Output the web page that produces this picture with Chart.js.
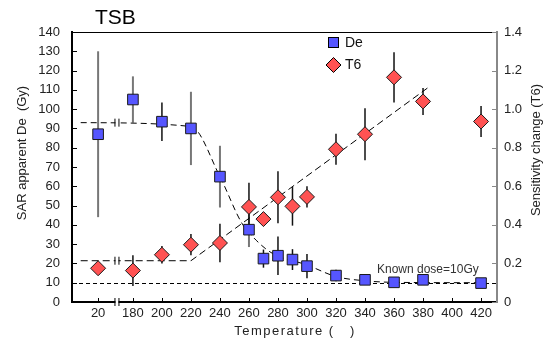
<!DOCTYPE html>
<html>
<head>
<meta charset="utf-8">
<script src="https://cdn.jsdelivr.net/npm/chart.js@4.4.1/dist/chart.umd.min.js"></script>
<style>
  body { margin: 0; background: #fff; }
  #wrap { width: 550px; height: 340px; }
</style>
</head>
<body>
<div id="wrap"><canvas id="c"></canvas></div>
<script>
// preheat temperatures of each aliquot
const temps = [20, 180, 200, 220, 240, 260, 270, 280, 290, 300, 320, 340, 360, 380, 420];
// SAR apparent De (Gy) + error
const deValues = [87, 105, 93.5, 90, 65, 37.5, 22.5, 24, 22, 18.6, 13.7, 11.5, 10.2, 11.5, 9.8];
const deErrors = [43, 12, 10, 19, 16, 9, 4.7, 10, 5.4, 6.3, 3, null, null, null, null];
// sensitivity change (T6) + error
const t6Values = [0.175, 0.163, 0.245, 0.297, 0.306, 0.493, 0.43, 0.543, 0.496, 0.545, 0.792, 0.87, 1.165, 1.04, 0.936];
const t6Errors = [null, 0.08, 0.045, 0.055, 0.1, 0.125, null, 0.135, 0.1, 0.055, 0.08, 0.135, 0.13, 0.07, 0.08];

// dashed trend lines
const deFitTemps = [8, 220, 240, 255, 265, 276, 300, 320, 340, 360, 420];
const deFitValues = [93, 91, 65, 41, 32, 25.3, 19.2, 13.2, 11, 10.2, 10];
const t6FitTemps = [8, 220, 385];
const t6FitValues = [0.214, 0.214, 1.12];
const knownDose = 10;

const xTickTemps = [20, 180, 200, 220, 240, 260, 280, 300, 320, 340, 360, 380, 400, 420];
const breakTemp = 33;

// broken axis: the 20 deg point sits just left of the break
const pos = t => (t < 100 ? t + 136 : t);
const labelFor = v => (v < 170 ? v - 136 : v);

const FONT = "'Liberation Sans', Arial, sans-serif";
const BLUE = '#5656ff';
const RED = '#ff5252';

const pts = (xs, ys) => xs.map((t, i) => ({ x: pos(t), y: ys[i] }));

const decor = {
  id: 'decor',
  beforeDatasetsDraw(chart) {
    const { ctx, chartArea: a, scales: { x, y, y1 } } = chart;
    ctx.save();
    // known dose line
    ctx.strokeStyle = '#000';
    ctx.lineWidth = 1;
    ctx.setLineDash([4, 3]);
    const yk = Math.round(y.getPixelForValue(knownDose)) + 0.5;
    ctx.beginPath(); ctx.moveTo(a.left, yk); ctx.lineTo(a.right, yk); ctx.stroke();
    ctx.setLineDash([]);

    // error bars
    temps.forEach((t, i) => {
      const px = x.getPixelForValue(pos(t));
      if (deErrors[i] != null) {
        const grey = t <= 260 && t !== 200;
        ctx.strokeStyle = grey ? '#777' : '#111';
        ctx.lineWidth = grey ? 2 : 1.5;
        ctx.beginPath();
        ctx.moveTo(px, y.getPixelForValue(deValues[i] + deErrors[i]));
        ctx.lineTo(px, y.getPixelForValue(deValues[i] - deErrors[i]));
        ctx.stroke();
      }
      if (t6Errors[i] != null) {
        ctx.strokeStyle = '#111';
        ctx.lineWidth = 1.5;
        ctx.beginPath();
        ctx.moveTo(px, y1.getPixelForValue(t6Values[i] + t6Errors[i]));
        ctx.lineTo(px, y1.getPixelForValue(t6Values[i] - t6Errors[i]));
        ctx.stroke();
      }
    });
    ctx.restore();
  },
  afterDraw(chart) {
    const { ctx, chartArea: a, scales: { x, y, y1 } } = chart;
    ctx.save();
    // top frame
    ctx.strokeStyle = '#000';
    ctx.lineWidth = 1;
    ctx.beginPath(); ctx.moveTo(a.left, a.top + 0.5); ctx.lineTo(a.right, a.top + 0.5); ctx.stroke();

    // inward tick marks
    y.ticks.forEach(tk => {
      const py = Math.round(y.getPixelForValue(tk.value)) + 0.5;
      ctx.beginPath(); ctx.moveTo(a.left, py); ctx.lineTo(a.left + 5, py); ctx.stroke();
    });
    ctx.strokeStyle = '#888';
    y1.ticks.forEach(tk => {
      const py = Math.round(y1.getPixelForValue(tk.value)) + 0.5;
      ctx.beginPath(); ctx.moveTo(a.right - 5, py); ctx.lineTo(a.right, py); ctx.stroke();
    });
    ctx.strokeStyle = '#000';
    xTickTemps.forEach(t => {
      const px = Math.round(x.getPixelForValue(pos(t))) + 0.5;
      ctx.beginPath(); ctx.moveTo(px, a.bottom); ctx.lineTo(px, a.bottom - 4); ctx.stroke();
    });

    // axis break marks
    const bx = x.getPixelForValue(pos(breakTemp));
    const brk = (cy) => {
      ctx.fillStyle = '#fff';
      ctx.fillRect(bx - 1.5, cy - 2, 3, 4);
      ctx.strokeStyle = '#000';
      ctx.lineWidth = 1;
      ctx.beginPath();
      ctx.moveTo(bx - 2, cy - 4); ctx.lineTo(bx - 2, cy + 4);
      ctx.moveTo(bx + 2, cy - 4); ctx.lineTo(bx + 2, cy + 4);
      ctx.stroke();
    };
    brk(a.bottom);
    brk(y.getPixelForValue(deFitValues[0]));
    brk(y1.getPixelForValue(t6FitValues[0]));

    // title
    ctx.fillStyle = '#000';
    ctx.font = `21px ${FONT}`;
    ctx.textBaseline = 'middle';
    ctx.textAlign = 'left';
    ctx.fillText('TSB', 95, 18);

    // legend
    ctx.lineWidth = 1;
    ctx.strokeStyle = '#000';
    ctx.fillStyle = BLUE;
    ctx.fillRect(328.5, 37.5, 10, 10);
    ctx.strokeRect(328.5, 37.5, 10, 10);
    ctx.fillStyle = RED;
    ctx.beginPath();
    ctx.moveTo(333.5, 57.5); ctx.lineTo(341, 65); ctx.lineTo(333.5, 72.5); ctx.lineTo(326, 65);
    ctx.closePath(); ctx.fill(); ctx.stroke();
    ctx.fillStyle = '#111';
    ctx.font = `14px ${FONT}`;
    ctx.fillText('De', 345, 43);
    ctx.fillText('T6', 345, 65);

    // known dose note
    ctx.font = `12px ${FONT}`;
    ctx.fillStyle = '#333';
    ctx.fillText('Known dose=10Gy', 377, 270);

    // axis titles
    ctx.font = `13px ${FONT}`;
    ctx.fillStyle = '#222';
    ctx.textAlign = 'center';
    ctx.save();
    ctx.translate(22, 153);
    ctx.rotate(-Math.PI / 2);
    ctx.fillText('SAR apparent De  (Gy)', 0, 0);
    ctx.restore();
    ctx.save();
    ctx.translate(536, 150);
    ctx.rotate(-Math.PI / 2);
    ctx.fillText('Sensitivity change (T6)', 0, 0);
    ctx.restore();
    ctx.letterSpacing = '1.5px';
    ctx.fillText('Temperature (   )', 295, 331);
    ctx.restore();
  }
};

const ctx = document.getElementById('c').getContext('2d');
new Chart(ctx, {
  type: 'line',
  data: {
    datasets: [
      {
        label: 'De',
        data: pts(temps, deValues),
        yAxisID: 'y',
        showLine: false,
        pointStyle: 'rect',
        pointRadius: 7.5,
        backgroundColor: BLUE,
        borderColor: '#1a1a1a',
        pointBorderWidth: 1
      },
      {
        label: 'T6',
        data: pts(temps, t6Values),
        yAxisID: 'y1',
        showLine: false,
        pointStyle: 'rectRot',
        pointRadius: 7.5,
        backgroundColor: RED,
        borderColor: '#1a1a1a',
        pointBorderWidth: 1
      },
      {
        label: 'De fit',
        data: pts(deFitTemps, deFitValues),
        yAxisID: 'y',
        borderColor: '#000',
        borderWidth: 1,
        borderDash: [6, 4],
        pointRadius: 0,
        cubicInterpolationMode: 'monotone'
      },
      {
        label: 'T6 fit',
        data: pts(t6FitTemps, t6FitValues),
        yAxisID: 'y1',
        borderColor: '#000',
        borderWidth: 1,
        borderDash: [7, 4],
        pointRadius: 0
      }
    ]
  },
  options: {
    responsive: true,
    maintainAspectRatio: false,
    animation: false,
    layout: { padding: { top: 32, left: 0, right: 0, bottom: 0 } },
    plugins: { legend: { display: false }, tooltip: { enabled: false } },
    scales: {
      x: {
        type: 'linear',
        min: 138,
        max: 431,
        grid: { display: false, drawTicks: false },
        border: { display: true, color: '#000', width: 2 },
        afterBuildTicks: s => { s.ticks = xTickTemps.map(t => ({ value: pos(t) })); },
        afterFit: s => { s.height = 38; },
        ticks: {
          autoSkip: false,
          maxRotation: 0,
          padding: 4,
          color: '#222',
          font: { family: FONT, size: 13 },
          callback: v => String(labelFor(v))
        }
      },
      y: {
        position: 'left',
        min: 0,
        max: 140,
        grid: { display: false, drawTicks: false },
        border: { display: true, color: '#000', width: 2 },
        afterFit: s => { s.width = 72; },
        ticks: {
          stepSize: 10,
          padding: 12,
          color: '#222',
          font: { family: FONT, size: 13 }
        }
      },
      y1: {
        position: 'right',
        min: 0,
        max: 1.4,
        grid: { display: false, drawTicks: false },
        border: { display: true, color: '#888', width: 2 },
        afterFit: s => { s.width = 53; },
        ticks: {
          stepSize: 0.2,
          padding: 7,
          color: '#222',
          font: { family: FONT, size: 13 },
          callback: v => (v === 0 ? '0' : v.toFixed(1))
        }
      }
    }
  },
  plugins: [decor]
});
</script>
</body>
</html>
